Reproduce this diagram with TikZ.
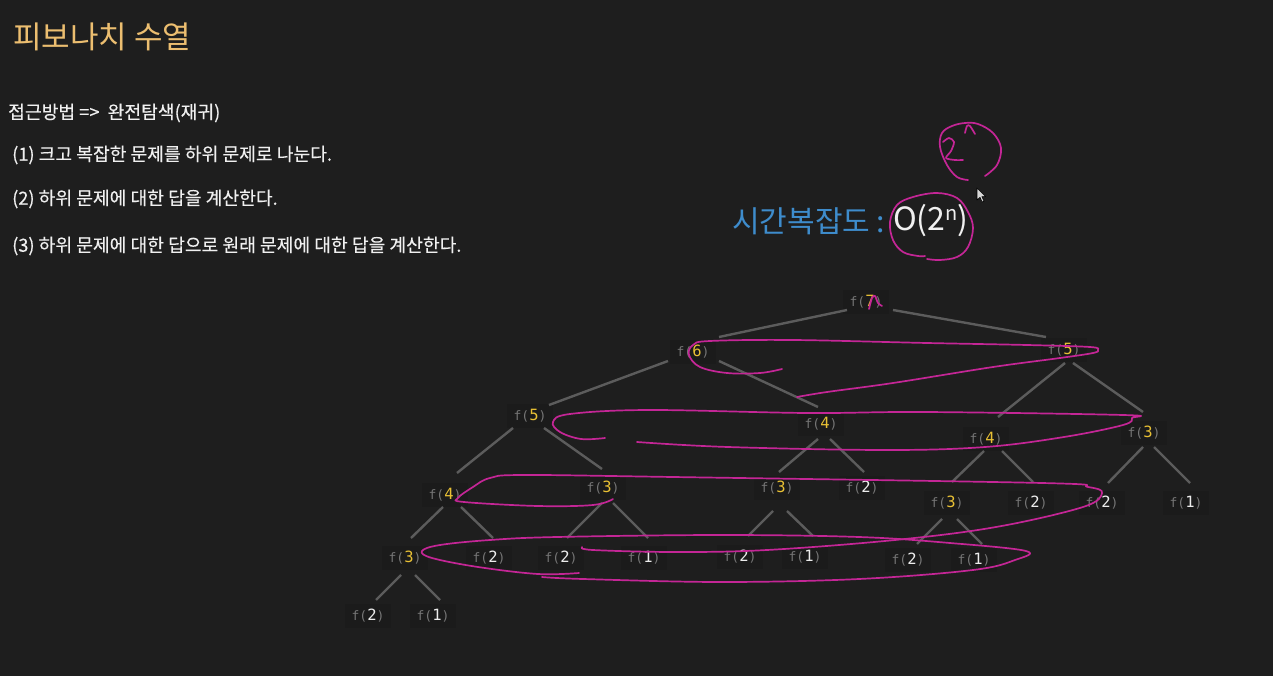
\documentclass[tikz,border=0pt]{standalone}
\usepackage{fontspec}
\setmainfont{Noto Sans CJK KR}
\newfontfamily\krfont{Noto Sans CJK KR}
\newfontfamily\krbold[FakeBold=0.3]{Noto Sans CJK KR}
\newfontfamily\monofont{DejaVu Sans Mono}
\definecolor{bgc}{RGB}{30,30,30}
\definecolor{boxc}{RGB}{27,27,27}
\definecolor{fgrey}{RGB}{118,118,118}
\definecolor{numy}{RGB}{232,192,52}
\definecolor{numw}{RGB}{236,236,236}
\definecolor{edgec}{RGB}{92,92,92}
\definecolor{pinkc}{RGB}{196,38,150}
\definecolor{titlec}{RGB}{236,190,112}
\definecolor{bluec}{RGB}{62,140,204}
\definecolor{textw}{RGB}{240,240,240}
\newcommand\fin[1]{f({\fontsize{15.5}{16}\selectfont\textcolor{numy}{#1}})}
\newcommand\fle[1]{f({\fontsize{15.5}{16}\selectfont\textcolor{numw}{#1}})}
\begin{document}
\begin{tikzpicture}[x=1pt,y=-1pt,
  fnode/.style={fill=boxc, minimum width=46pt, minimum height=24pt, inner sep=0pt,
    font=\monofont\fontsize{13}{16}\selectfont, text=fgrey},
  edge/.style={draw=edgec, line width=2.4pt},
  ink/.style={draw=pinkc, line width=1.7pt, line cap=round, line join=round},
  txt/.style={anchor=west, inner sep=0pt, text=textw, font=\krbold\fontsize{18.2}{21}\selectfont}]
\useasboundingbox[fill=bgc] (0,0) rectangle (1273,676);

% texts
\node[anchor=west, inner sep=0pt, text=titlec, font=\krfont\fontsize{31}{36}\selectfont] (title) at (13,37) {피보나치 수열};
\node[txt] (appr) at (8,113) {접근방법 =>\ \ 완전탐색(재귀)};
\node[txt] (s1) at (12,155) {(1) 크고 복잡한 문제를 하위 문제로 나눈다.};
\node[txt] (s2) at (12,199) {(2) 하위 문제에 대한 답을 계산한다.};
\node[txt] (s3) at (12,246) {(3) 하위 문제에 대한 답으로 원래 문제에 대한 답을 계산한다.};
\node[anchor=west, inner sep=0pt, text=bluec, font=\krfont\fontsize{30}{34}\selectfont] (tc) at (732,221) {시간복잡도 :};
\node[anchor=west, inner sep=0pt, text=textw, font=\krfont\fontsize{32}{34}\selectfont] (on) at (893,221) {O(2\raisebox{0.32em}{\fontsize{20}{20}\selectfont n})};

% tree nodes
\node[fnode] (f7) at (866,302) {\fin{7}};
\node[fnode] (f6) at (693,352) {\fin{6}};
\node[fnode] (f5r) at (1064,350) {\fin{5}};
\node[fnode] (f5l) at (530,416) {\fin{5}};
\node[fnode] (f4m) at (821,424) {\fin{4}};
\node[fnode] (f4r) at (986,439) {\fin{4}};
\node[fnode] (f3r) at (1144,433) {\fin{3}};
\node[fnode] (f4l) at (445,495) {\fin{4}};
\node[fnode] (f3a) at (603,488) {\fin{3}};
\node[fnode] (f3m) at (777,488) {\fin{3}};
\node[fnode] (f2m) at (862,488) {\fle{2}};
\node[fnode] (f3b) at (947,503) {\fin{3}};
\node[fnode] (f2b) at (1031,503) {\fle{2}};
\node[fnode] (f2c) at (1102,503) {\fle{2}};
\node[fnode] (f1c) at (1186,503) {\fle{1}};
\node[fnode] (f3l) at (405,558) {\fin{3}};
\node[fnode] (f2l) at (489,558) {\fle{2}};
\node[fnode] (f2a) at (561,558) {\fle{2}};
\node[fnode] (f1a) at (644,558) {\fle{1}};
\node[fnode] (f2d) at (740,557) {\fle{2}};
\node[fnode] (f1d) at (805,557) {\fle{1}};
\node[fnode] (f2e) at (908,560) {\fle{2}};
\node[fnode] (f1e) at (974,560) {\fle{1}};
\node[fnode] (f2z) at (368,616) {\fle{2}};
\node[fnode] (f1z) at (433,616) {\fle{1}};

% edges
\draw[edge] ([shift={(-19,8)}]f7.center) -- ([shift={(26,-15)}]f6.center);
\draw[edge] ([shift={(27,8)}]f7.center) -- ([shift={(-18,-13)}]f5r.center);
\draw[edge] ([shift={(-25,9)}]f6.center) -- ([shift={(19,-11)}]f5l.center);
\draw[edge] ([shift={(26,9)}]f6.center) -- ([shift={(-3,-17)}]f4m.center);
\draw[edge] ([shift={(1,13)}]f5r.center) -- ([shift={(12,-22)}]f4r.center);
\draw[edge] ([shift={(9,13)}]f5r.center) -- ([shift={(-1,-21)}]f3r.center);
\draw[edge] ([shift={(-17,12)}]f5l.center) -- ([shift={(12,-22)}]f4l.center);
\draw[edge] ([shift={(14,12)}]f5l.center) -- ([shift={(-1,-19)}]f3a.center);
\draw[edge] ([shift={(-3,15)}]f4m.center) -- ([shift={(2,-16)}]f3m.center);
\draw[edge] ([shift={(9,15)}]f4m.center) -- ([shift={(2,-16)}]f2m.center);
\draw[edge] ([shift={(-2,12)}]f4r.center) -- ([shift={(5,-21)}]f3b.center);
\draw[edge] ([shift={(16,12)}]f4r.center) -- ([shift={(2,-21)}]f2b.center);
\draw[edge] ([shift={(-1,14)}]f3r.center) -- ([shift={(6,-20)}]f2c.center);
\draw[edge] ([shift={(10,14)}]f3r.center) -- ([shift={(4,-20)}]f1c.center);
\draw[edge] ([shift={(-2,12)}]f4l.center) -- ([shift={(6,-20)}]f3l.center);
\draw[edge] ([shift={(16,12)}]f4l.center) -- ([shift={(4,-20)}]f2l.center);
\draw[edge] ([shift={(-1,15)}]f3a.center) -- ([shift={(6,-20)}]f2a.center);
\draw[edge] ([shift={(10,15)}]f3a.center) -- ([shift={(4,-20)}]f1a.center);
\draw[edge] ([shift={(-4,23)}]f3m.center) -- ([shift={(8,-21)}]f2d.center);
\draw[edge] ([shift={(10,23)}]f3m.center) -- ([shift={(8,-21)}]f1d.center);
\draw[edge] ([shift={(-5,16)}]f3b.center) -- ([shift={(9,-16)}]f2e.center);
\draw[edge] ([shift={(10,16)}]f3b.center) -- ([shift={(8,-16)}]f1e.center);
\draw[edge] ([shift={(-4,17)}]f3l.center) -- ([shift={(8,-16)}]f2z.center);
\draw[edge] ([shift={(10,17)}]f3l.center) -- ([shift={(7,-16)}]f1z.center);

% handwritten ink
\draw[ink] plot[smooth, tension=0.6] coordinates {(782,369) (760,373) (727,373) (700,367) (689,355) (693,345) (710,341) (793,340) (927,343) (1027,345) (1090,347) (1098,350) (1093,353) (1060,358) (993,367) (893,383) (827,392) (797,397)};
\draw[ink] plot[smooth, tension=0.6] coordinates {(605,438) (581,439) (560,432) (553,422) (570,414) (649,410) (807,413) (925,412) (1123,415) (1132,418) (1123,425) (1064,437) (985,447) (886,450) (728,447) (637,442)};
\draw[ink] plot[smooth, tension=0.6] coordinates {(613,499) (593,505) (538,506) (464,502) (458,498) (473,487) (490,478) (523,475) (673,477) (1042,483) (1088,487) (1102,493) (1083,507) (996,527) (895,540) (767,550) (675,552) (593,550) (582,547)};
\draw[ink] plot[smooth, tension=0.6] coordinates {(579,573) (538,574) (478,567) (432,558) (422,551) (440,545) (490,540) (557,537) (721,535) (859,537) (950,543) (1026,551) (1015,560) (973,570) (859,579) (721,582) (583,579) (542,577)};
\draw[ink] plot[smooth, tension=0.5] coordinates {(869,309) (872,298) (875,296) (878,303) (882,306)};
\draw[ink] plot[smooth, tension=0.6] coordinates {(927,259) (940,260) (957,257) (968,247) (973,228) (968,212) (957,198) (937,193) (913,197) (897,205) (890,222) (893,240) (903,252) (918,256) (925,256)};
\draw[ink] plot[smooth, tension=0.6] coordinates {(968,180) (957,177) (947,165) (940,147) (942,133) (952,126) (965,123) (978,124) (993,133) (1001,148) (997,165) (985,176)};
\draw[ink] plot[smooth, tension=0.5] coordinates {(943,142) (949,138) (954,142) (951,151) (946,158) (955,160) (963,160)};
\draw[ink] plot[smooth, tension=0.5] coordinates {(965,133) (967,126) (970,126) (975,134)};

% mouse pointer
\filldraw[fill={rgb,255:red,215;green,215;blue,215}, draw=black, line width=0.6pt, line join=round]
  (977,188) -- (977,200) -- (980,197.4) -- (982.2,202) -- (984,201.2) -- (981.9,196.6) -- (985.6,196.6) -- cycle;
\end{tikzpicture}
\end{document}
